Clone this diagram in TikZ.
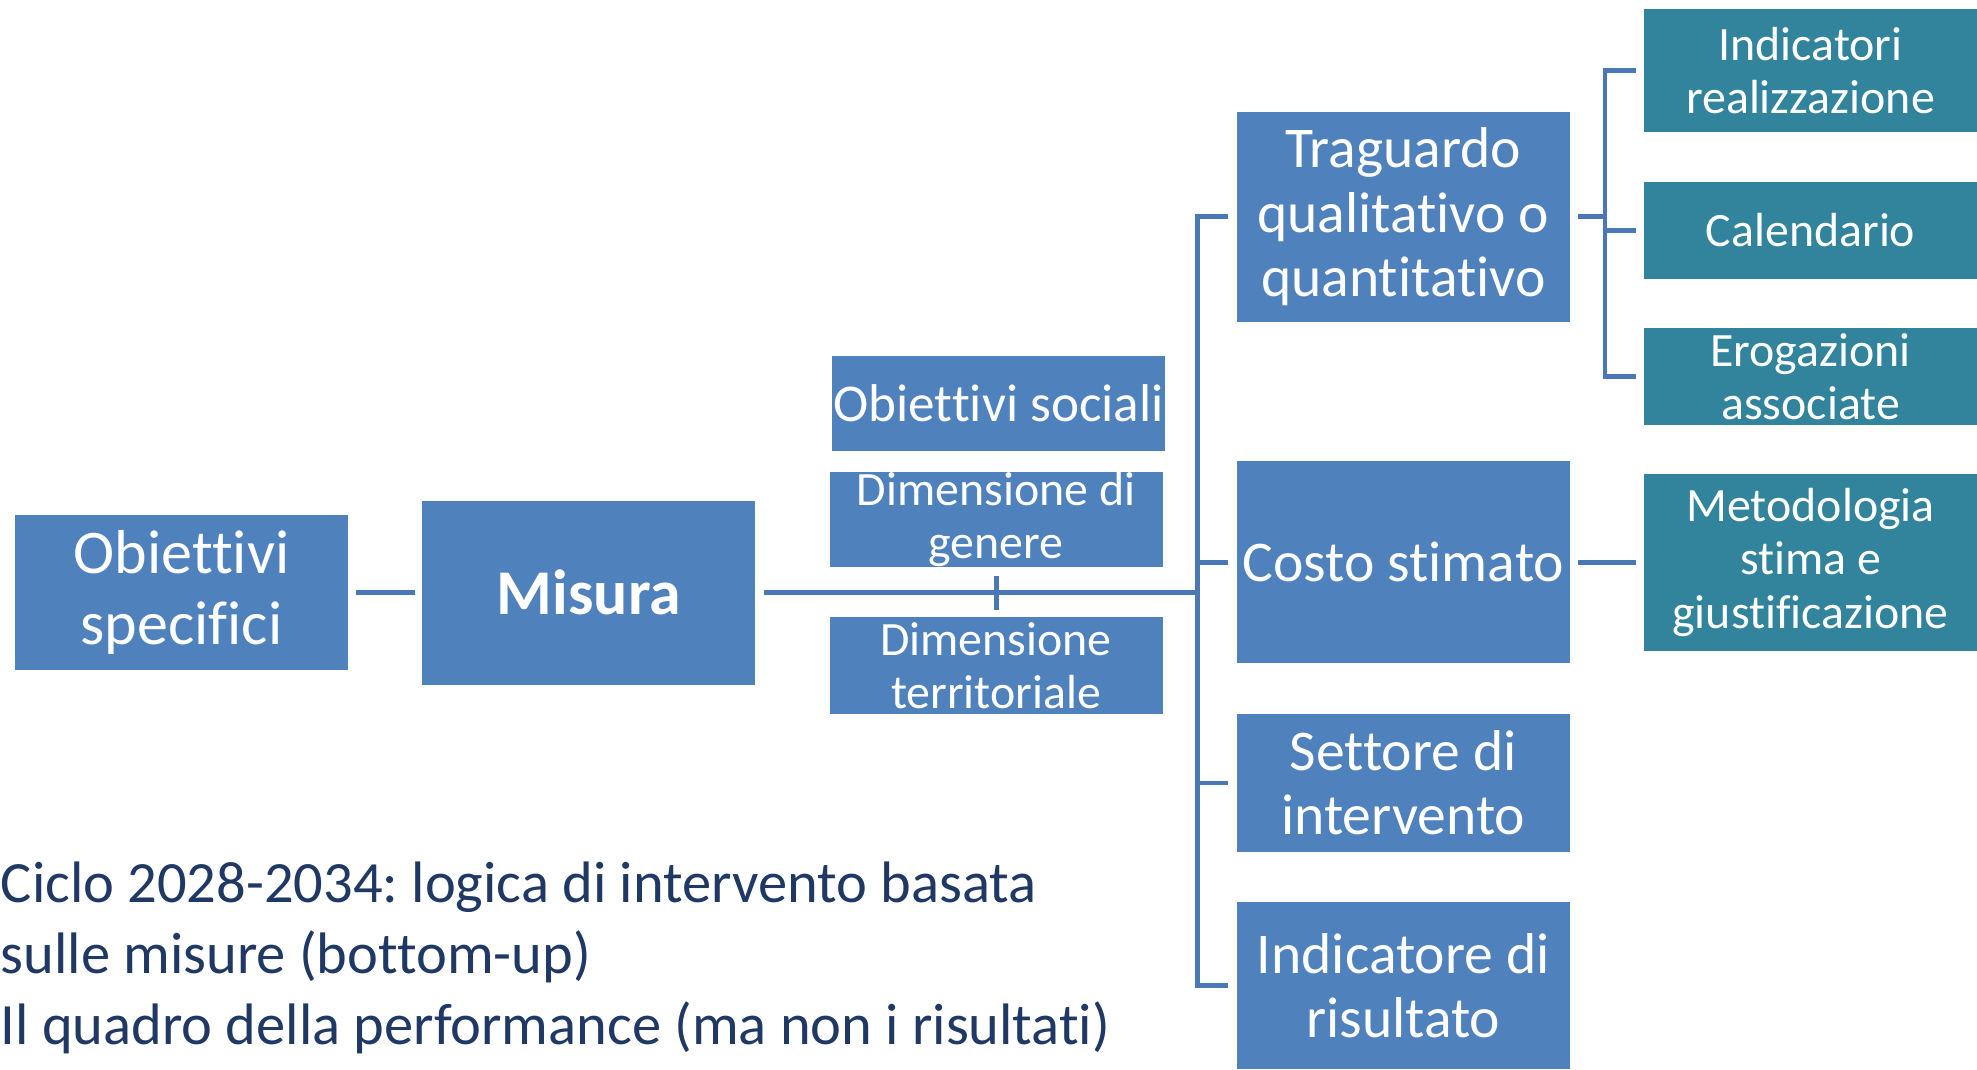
\documentclass[tikz,border=0pt]{standalone}
\usepackage{fontspec}
\setmainfont{Carlito}[Ligatures={NoCommon,NoRare}]
\frenchspacing

\definecolor{boxblue}{HTML}{4F81BD}
\definecolor{boxteal}{HTML}{31849B}
\definecolor{linkblue}{HTML}{4A78B6}
\definecolor{navytext}{HTML}{1F3864}

\tikzstyle{misbox}=[fill=boxblue, text=white, align=center, inner sep=0pt, minimum width=26.4mm]
\tikzstyle{subbox}=[fill=boxteal, text=white, align=center, inner sep=0pt, minimum width=26.4mm]
\tikzstyle{bigtxt}=[font=\fontsize{13}{14.5}\selectfont]
\tikzstyle{smalltxt}=[font=\fontsize{10.8}{12}\selectfont]
\tikzstyle{link}=[linkblue, line width=1.1pt, shorten <=0.6mm]

\begin{document}
\begin{tikzpicture}[x=0.1mm, y=-0.1mm]
      \useasboundingbox (0,0) rectangle (1568,848);

      \node[misbox, minimum height=12.3mm, font=\fontsize{14}{16}\selectfont] (obs) at (144,470) {Obiettivi\\specifici};
      \node[misbox, minimum height=14.6mm, font=\bfseries\fontsize{14.4}{17}\selectfont] (mis) at (467,470) {Misura};

      \node[misbox, minimum height=7.6mm, font=\fontsize{12}{14.5}\selectfont] (soc) at (792,320) {Obiettivi sociali};
      \node[misbox, smalltxt, minimum height=7.6mm] (gen) at (790,412) {Dimensione di\\genere};
      \node[misbox, smalltxt, minimum height=7.7mm] (ter) at (790,528) {Dimensione\\territoriale};

      \node[misbox, bigtxt, minimum height=16.7mm] (trag) at (1113,172) {Traguardo\\qualitativo o\\quantitativo};
      \node[misbox, bigtxt, minimum height=16mm] (cos) at (1113,446) {Costo stimato};
      \node[misbox, bigtxt, minimum height=11mm] (set) at (1113,621) {Settore di\\intervento};
      \node[misbox, bigtxt, minimum height=13.3mm] (ind) at (1113,781.5) {Indicatore di\\risultato};

      \node[subbox, smalltxt, minimum height=9.8mm] (real) at (1436,56) {Indicatori\\realizzazione};
      \node[subbox, smalltxt, minimum height=7.7mm] (cal) at (1436,182.5) {Calendario};
      \node[subbox, smalltxt, minimum height=7.7mm] (ero) at (1436,298.5) {Erogazioni\\associate};
      \node[subbox, smalltxt, minimum height=14mm] (met) at (1436,446) {Metodologia\\stima e\\giustificazione};

      \node[anchor=west, align=left, inner sep=0pt, text=navytext, font=\fontsize{13.2}{16}\selectfont] (cap) at (0,760)
        {Ciclo 2028-2034: logica di intervento basata\\sulle misure (bottom-up)\\Il quadro della performance (ma non i risultati)};

      \coordinate (spine) at (950,470);
      \coordinate (fork) at (1273,172);

      \draw[link, shorten >=0.5mm] (obs.east) -- (mis.west);
      \draw[link] (mis.east) -- (spine);
      \draw[link, shorten >=0.5mm] (gen.south) -- (ter.north);
      \foreach \b in {trag, cos, set, ind}
        \draw[link] (\b.west) -| (spine);
      \draw[link] (trag.east) -- (fork);
      \foreach \b in {real, cal, ero}
        \draw[link] (\b.west) -| (fork);
      \draw[link, shorten >=0.6mm] (cos.east) -- (met.west);
    \end{tikzpicture}
\end{document}
